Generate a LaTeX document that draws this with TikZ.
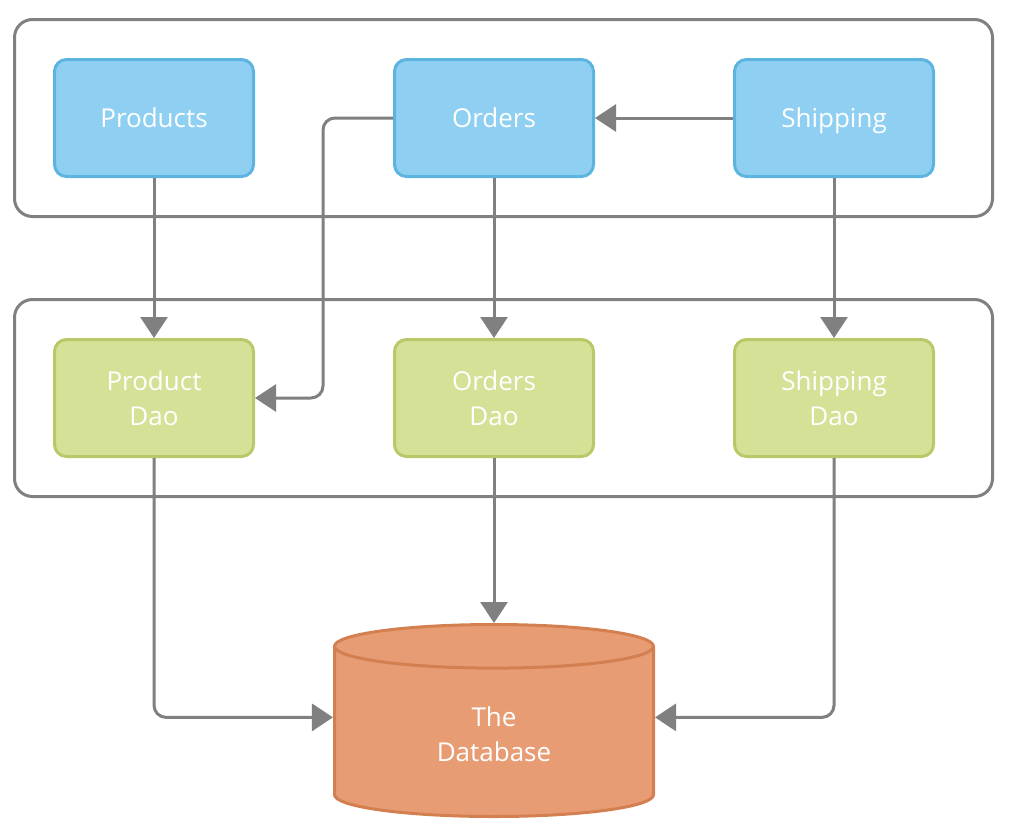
\documentclass[tikz,border=0pt]{standalone}
\usepackage{fontspec}
\setmainfont{Open Sans}
\usepackage{xcolor}
\usepackage{tikz}
\usetikzlibrary{shapes.geometric, positioning}
\usetikzlibrary{arrows.meta}
\tikzset{>={Triangle[length=21pt,width=27pt]}}
\definecolor{linegray}{HTML}{808080}
\definecolor{bluefill}{HTML}{8FD0F2}
\definecolor{blueline}{HTML}{5DB4E0}
\definecolor{greenfill}{HTML}{D6E198}
\definecolor{greenline}{HTML}{B8C96A}
\definecolor{dbfill}{HTML}{E89C74}
\definecolor{dbline}{HTML}{D47F50}

\begin{document}
\begin{tikzpicture}[x=1pt, y=-1pt, font=\fontsize{26}{35}\selectfont, line width=3pt, layer/.style={rectangle, rounded corners=18pt, draw=linegray, minimum width=978pt, minimum height=197pt}, service/.style={rectangle, rounded corners=12pt, draw=blueline, fill=bluefill, text=white, minimum width=199pt, minimum height=117pt, text height=19pt, text depth=0pt}, dao/.style={rectangle, rounded corners=12pt, draw=greenline, fill=greenfill, text=white, minimum width=199pt, minimum height=117pt, align=center}, store/.style={cylinder, shape border rotate=90, aspect=0.36, draw=dbline, fill=dbfill, text=white, minimum width=319pt, minimum height=192pt, align=center}, conn/.style={->, draw=linegray, line width=3pt}]

    \useasboundingbox (0,0) rectangle (1015,831);

    %Nodes
    \node[layer](services) at (503.5,118){};
    \node[layer](daos) at (503.5,398){};
    \node[service](products) at (154,118){Products};
    \node[service](orders)[right=138pt of products]{Orders};
    \node[service](shipping)[right=138pt of orders]{Shipping};
    \node[dao](productdao)[below=160pt of products]{Product\\Dao};
    \node[dao](ordersdao)[below=160pt of orders]{Orders\\Dao};
    \node[dao](shippingdao)[below=160pt of shipping]{Shipping\\Dao};
    \node[store](database)[below=165pt of ordersdao]{The\\Database};

    %Lines
    \draw[conn] (products.south) -- (productdao.north);
    \draw[conn] (orders.south) -- (ordersdao.north);
    \draw[conn] (shipping.south) -- (shippingdao.north);
    \draw[conn] (shipping.west) -- (orders.east);
    \draw[conn, rounded corners=12pt] (orders.west) -- ++(-70,0) |- (productdao.east);
    \draw[conn, rounded corners=12pt] (productdao.south) |- ([yshift=17pt]database.west);
    \draw[conn] (ordersdao.south) -- (database.north);
    \draw[conn, rounded corners=12pt] (shippingdao.south) |- ([yshift=17pt]database.east);

\end{tikzpicture}
\end{document}
